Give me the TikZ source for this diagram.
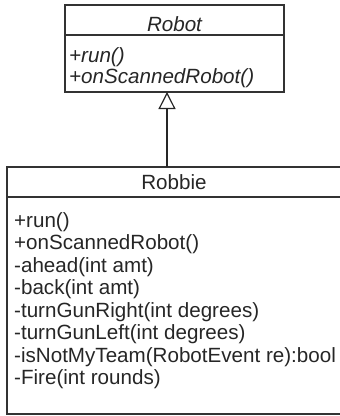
\documentclass[tikz,border=0pt]{standalone}
\usepackage{fontspec}
\setmainfont{Liberation Sans}
\usetikzlibrary{arrows.meta}
\begin{document}
\begin{tikzpicture}[x=1pt,y=-1pt,
  classbox/.style={draw=black!80, line width=1.3pt, rectangle, inner sep=0pt, outer sep=0pt, anchor=north west},
  divider/.style={draw=black!80, line width=1.3pt},
  member/.style={anchor=base west, inner sep=0pt, font=\fontsize{20.6}{22.5}\selectfont, text=black!85},
  classname/.style={member, anchor=base},
  abstractmember/.style={member, font=\fontsize{20.6}{22.5}\selectfont\itshape},
  generalization/.style={draw=black!85, line width=1.2pt, -{Triangle[open, length=17pt, width=17pt, line width=1.2pt]}},
]
\useasboundingbox (0,0) rectangle (340,416);
\clip (0,0) rectangle (340,416);

% abstract class Robot
\node[classbox, minimum width=219pt, minimum height=87pt] (robot) at (65,5) {};
\draw[divider] (robot.west |- 0,35) -- (robot.east |- 0,35);
\node[abstractmember, anchor=base] (robotname) at (174.5,31) {Robot};
\node[abstractmember] (robotrun) at (69,62) {+run()};
\node[abstractmember] (robotscan) at (69,83) {+onScannedRobot()};

% concrete class Robbie
\node[classbox, minimum width=336pt, minimum height=247pt] (robbie) at (7,167) {};
\draw[divider] (robbie.west |- 0,197) -- (robbie.east |- 0,197);
\node[classname] (robbiename) at (174,189) {Robbie};
\node[member] (m1) at (14,227)   {+run()};
\node[member] (m2) at (14,249.5) {+onScannedRobot()};
\node[member] (m3) at (14,272)   {-ahead(int amt)};
\node[member] (m4) at (14,294.5) {-back(int amt)};
\node[member] (m5) at (14,317)   {-turnGunRight(int degrees)};
\node[member] (m6) at (14,339.5) {-turnGunLeft(int degrees)};
\node[member] (m7) at (14,362)   {-isNotMyTeam(RobotEvent re):bool};
\node[member] (m8) at (14,384.5) {-Fire(int rounds)};

% inheritance arrow
\coordinate (ax) at (167,0);
\draw[generalization] (robbie.north -| ax) -- (robot.south -| ax);
\end{tikzpicture}
\end{document}
